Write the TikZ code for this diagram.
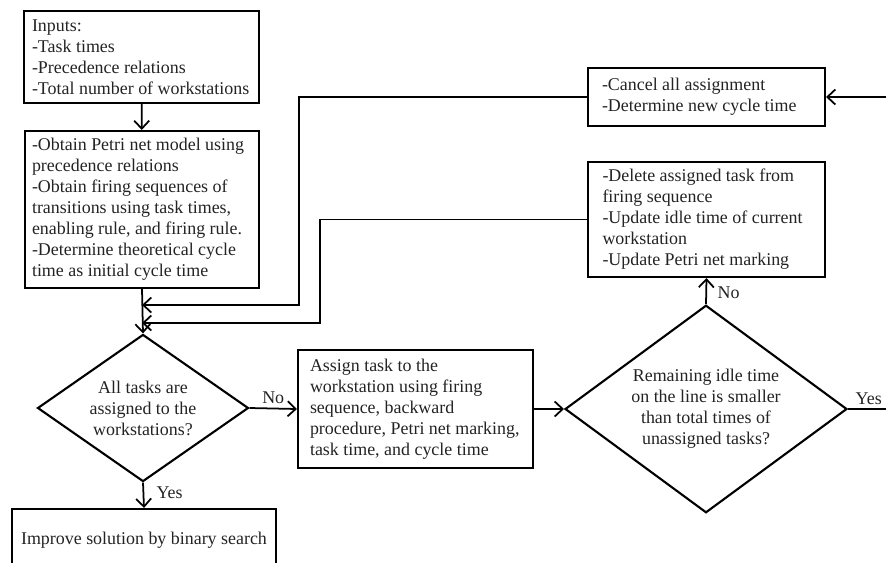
\documentclass[tikz,border=0pt]{standalone}
\usepackage{fontspec}
\setmainfont{Liberation Serif}
\definecolor{ink}{RGB}{35,35,35}
\usepackage{tikz}
\usetikzlibrary{arrows.meta,shapes.geometric}

\begin{document}
\begin{tikzpicture}[x=0.02cm, y=-0.02cm,
    font=\fontsize{10.2}{11.95}\selectfont,
    procbox/.style={draw, line width=1.2pt, align=flush left, text=ink, inner xsep=0pt, inner ysep=0pt},
    decision/.style={draw, diamond, line width=1.2pt, align=center, text=ink, inner sep=-2pt},
    flow/.style={line width=1pt, -{Straight Barb[length=1.6mm, width=3mm, line width=1pt]}},
    tag/.style={text=ink, inner sep=2pt}]
        \useasboundingbox (0,0) rectangle (886,562);
        % left column
        \node[procbox, minimum width=4.7cm, minimum height=1.84cm, text width=4.38cm] (inputs) at (141.5,57)
          {Inputs:\\-Task times\\-Precedence relations\\-Total number of workstations};
        \node[procbox, minimum width=4.68cm, minimum height=3.14cm, text width=4.40cm] (model) at (142,209.5)
          {-Obtain Petri net model using\\precedence relations\\-Obtain firing sequences of\\transitions using task times,\\enabling rule, and firing rule.\\-Determine theoretical cycle\\time as initial cycle time};
        \node[decision, minimum width=4.22cm, minimum height=2.4cm] (dec1) at (143,408)
          {All tasks are\\assigned to the\\workstations?};
        \node[procbox, align=center, minimum width=5.28cm, minimum height=1.24cm] (improve) at (144,540)
          {Improve solution by binary search};
        % middle and right
        \node[procbox, minimum width=4.7cm, minimum height=2.36cm, text width=4.22cm] (assign) at (415.5,409)
          {Assign task to the\\workstation using firing\\sequence, backward\\procedure, Petri net marking,\\task time, and cycle time};
        \node[decision, minimum width=5.64cm, minimum height=3.08cm, inner sep=-3pt] (dec2) at (706,409)
          {Remaining idle time\\on the line is smaller\\than total times of\\unassigned tasks?};
        \node[procbox, minimum width=4.74cm, minimum height=2.3cm, text width=4.16cm] (delete) at (706.5,219.5)
          {-Delete assigned task from\\firing sequence\\-Update idle time of current\\workstation\\-Update Petri net marking};
        \node[procbox, minimum width=4.74cm, minimum height=1.16cm, text width=4.18cm] (cancel) at (706.5,97)
          {-Cancel all assignment\\-Determine new cycle time};
        % loop points
        \coordinate (bendA) at (299,305);
        \coordinate (joinA) at (142,305);
        \coordinate (bendB) at (320,323);
        \coordinate (joinB) at (142,323);
        \coordinate (edgeC) at (886,97);
        \coordinate (edgeY) at (886,409);
        % connectors
        \draw[flow] (inputs) -- (model);
        \draw[flow] (model.south) -- (dec1.north);
        \draw[flow] (cancel.west) -| (bendA) -- (joinA);
        \draw[flow] (delete.west) -| (bendB) -- (joinB);
        \draw[flow] (dec1.east) -- node[tag, above]{No} (assign.west);
        \draw[flow] (dec1.south) -- node[tag, right=5pt, pos=0.4]{Yes} (improve.north);
        \draw[flow] (assign.east) -- (dec2.west);
        \draw[flow] (dec2.north) -- node[tag, right=4pt, pos=0.45]{No} (delete.south);
        \draw[line width=1pt] (dec2.east) -- node[tag, above, xshift=1pt]{Yes} (edgeY);
        \draw[flow] (edgeC) -- (cancel.east);
      \end{tikzpicture}
\end{document}
